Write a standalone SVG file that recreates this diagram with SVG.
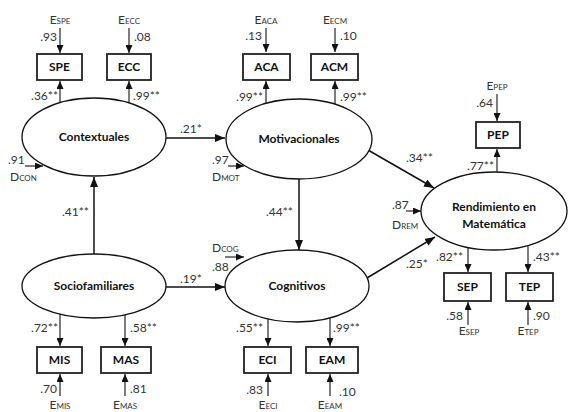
<svg xmlns="http://www.w3.org/2000/svg" width="572" height="412" viewBox="0 0 572 412">
<style>
.bg{fill:#fff}
.lat{fill:#fff;stroke:#111;stroke-width:1.3}
.box{fill:#fff;stroke:#222;stroke-width:1.8}
.ln{stroke:#111;stroke-width:1.5;fill:none}
.lnt{stroke:#111;stroke-width:1.1;fill:none}
.lb{font-family:Lato,"Liberation Sans",sans-serif;font-weight:bold;font-size:12px;fill:#111;text-anchor:middle}
.num{font-family:Lato,"Liberation Sans",sans-serif;font-size:12px;fill:#333}
.sub{font-size:8px}
.mid{text-anchor:middle}
.end{text-anchor:end}
</style>
<defs>
<marker id="ah" viewBox="0 0 10 8" refX="10" refY="4" markerWidth="10" markerHeight="8" markerUnits="userSpaceOnUse" orient="auto"><path d="M0,0L10,4L0,8z" fill="#111"/></marker>
<marker id="as" viewBox="0 0 8 7" refX="8" refY="3.5" markerWidth="8" markerHeight="7" markerUnits="userSpaceOnUse" orient="auto"><path d="M0,0L8,3.5L0,7z" fill="#111"/></marker>
</defs>
<rect class="bg" width="572" height="412"/>

<g id="connectors">
<!-- structural paths -->
<line class="ln" x1="166" y1="138" x2="225" y2="138" marker-end="url(#ah)"/>
<line class="ln" x1="166" y1="287" x2="225" y2="287" marker-end="url(#ah)"/>
<line class="ln" x1="94" y1="254" x2="94" y2="177" marker-end="url(#ah)"/>
<line class="ln" x1="299" y1="179" x2="299" y2="250" marker-end="url(#ah)"/>
<line class="ln" x1="368" y1="150" x2="434" y2="188" marker-end="url(#ah)"/>
<line class="ln" x1="367" y1="278" x2="435" y2="237" marker-end="url(#ah)"/>
<!-- loadings -->
<line class="lnt" x1="60" y1="103" x2="60" y2="81" marker-end="url(#as)"/>
<line class="lnt" x1="129" y1="103" x2="129" y2="81" marker-end="url(#as)"/>
<line class="lnt" x1="266" y1="103" x2="266" y2="81" marker-end="url(#as)"/>
<line class="lnt" x1="335" y1="104" x2="335" y2="81" marker-end="url(#as)"/>
<line class="lnt" x1="497" y1="172" x2="497" y2="149" marker-end="url(#as)"/>
<line class="lnt" x1="60" y1="314" x2="60" y2="346" marker-end="url(#as)"/>
<line class="lnt" x1="125" y1="315" x2="125" y2="346" marker-end="url(#as)"/>
<line class="lnt" x1="268" y1="319" x2="268" y2="346" marker-end="url(#as)"/>
<line class="lnt" x1="330" y1="318" x2="330" y2="346" marker-end="url(#as)"/>
<line class="lnt" x1="468" y1="247" x2="468" y2="272" marker-end="url(#as)"/>
<line class="lnt" x1="528" y1="246" x2="528" y2="272" marker-end="url(#as)"/>
<!-- errors -->
<line class="lnt" x1="60" y1="28" x2="60" y2="53" marker-end="url(#as)"/>
<line class="lnt" x1="129" y1="28" x2="129" y2="53" marker-end="url(#as)"/>
<line class="lnt" x1="266" y1="28" x2="266" y2="52" marker-end="url(#as)"/>
<line class="lnt" x1="335" y1="28" x2="335" y2="52" marker-end="url(#as)"/>
<line class="lnt" x1="497" y1="94" x2="497" y2="121" marker-end="url(#as)"/>
<line class="lnt" x1="60" y1="396" x2="60" y2="374" marker-end="url(#as)"/>
<line class="lnt" x1="125" y1="396" x2="125" y2="374" marker-end="url(#as)"/>
<line class="lnt" x1="268" y1="396" x2="268" y2="374" marker-end="url(#as)"/>
<line class="lnt" x1="330" y1="396" x2="330" y2="374" marker-end="url(#as)"/>
<line class="lnt" x1="468" y1="325" x2="468" y2="302" marker-end="url(#as)"/>
<line class="lnt" x1="528" y1="325" x2="528" y2="302" marker-end="url(#as)"/>
<!-- disturbances -->
<line class="lnt" x1="25" y1="166" x2="43" y2="166" marker-end="url(#as)"/>
<line class="lnt" x1="228" y1="166" x2="244" y2="166" marker-end="url(#as)"/>
<line class="lnt" x1="225" y1="257" x2="244" y2="257" marker-end="url(#as)"/>
<line class="lnt" x1="406" y1="211" x2="421" y2="211" marker-end="url(#as)"/>
<!-- path labels -->
<text class="num" x="180" y="133">.21*</text>
<text class="num" x="180" y="283">.19*</text>
<text class="num" x="62" y="216">.41**</text>
<text class="num" x="266" y="216">.44**</text>
<text class="num" x="406" y="162">.34**</text>
<text class="num" x="406" y="268">.25*</text>
</g>

<g id="Contextuales">
<ellipse class="lat" cx="94" cy="137" rx="72" ry="39"/>
<text class="lb" x="94" y="141">Contextuales</text>
<text class="num" x="8" y="164">.91</text>
<text class="num" x="10" y="181">D<tspan class="sub">CON</tspan></text>
</g>
<g id="SPE">
<rect class="box" x="37" y="54" width="45" height="26"/>
<text class="lb" x="59.5" y="71">SPE</text>
<text class="num mid" x="60" y="24">E<tspan class="sub">SPE</tspan></text>
<text class="num end" x="57" y="41">.93</text>
<text class="num end" x="58" y="100">.36**</text>
</g>
<g id="ECC">
<rect class="box" x="107" y="54" width="44" height="26"/>
<text class="lb" x="129" y="71">ECC</text>
<text class="num mid" x="129" y="24">E<tspan class="sub">ECC</tspan></text>
<text class="num" x="134" y="41">.08</text>
<text class="num" x="133" y="100">.99**</text>
</g>

<g id="Motivacionales">
<ellipse class="lat" cx="299" cy="139" rx="73" ry="40"/>
<text class="lb" x="299" y="143">Motivacionales</text>
<text class="num" x="212" y="164">.97</text>
<text class="num" x="212" y="181">D<tspan class="sub">MOT</tspan></text>
</g>
<g id="ACA">
<rect class="box" x="243" y="54" width="47" height="26"/>
<text class="lb" x="266.5" y="71">ACA</text>
<text class="num mid" x="266" y="24">E<tspan class="sub">ACA</tspan></text>
<text class="num end" x="262" y="40">.13</text>
<text class="num end" x="263" y="101">.99**</text>
</g>
<g id="ACM">
<rect class="box" x="311" y="54" width="47" height="26"/>
<text class="lb" x="334.5" y="71">ACM</text>
<text class="num mid" x="335" y="24">E<tspan class="sub">ECM</tspan></text>
<text class="num" x="340" y="40">.10</text>
<text class="num" x="340" y="101">.99**</text>
</g>

<g id="Rendimiento">
<ellipse class="lat" cx="494" cy="211" rx="73" ry="39"/>
<text class="lb" x="494" y="211">Rendimiento en</text>
<text class="lb" x="494" y="228">Matemática</text>
<text class="num" x="392" y="209">.87</text>
<text class="num" x="392" y="229">D<tspan class="sub">REM</tspan></text>
</g>
<g id="PEP">
<rect class="box" x="476" y="122" width="44" height="26"/>
<text class="lb" x="498" y="139">PEP</text>
<text class="num mid" x="497" y="90">E<tspan class="sub">PEP</tspan></text>
<text class="num end" x="493" y="107">.64</text>
<text class="num end" x="494" y="170">.77**</text>
</g>
<g id="SEP">
<rect class="box" x="444" y="273" width="47" height="28"/>
<text class="lb" x="467.5" y="291">SEP</text>
<text class="num end" x="463" y="261">.82**</text>
<text class="num end" x="463" y="320">.58</text>
<text class="num mid" x="469" y="335">E<tspan class="sub">SEP</tspan></text>
</g>
<g id="TEP">
<rect class="box" x="506" y="273" width="47" height="28"/>
<text class="lb" x="529.5" y="291">TEP</text>
<text class="num" x="533" y="261">.43**</text>
<text class="num" x="533" y="320">.90</text>
<text class="num mid" x="528" y="335">E<tspan class="sub">TEP</tspan></text>
</g>

<g id="Sociofamiliares">
<ellipse class="lat" cx="94" cy="286" rx="72" ry="32"/>
<text class="lb" x="94" y="290">Sociofamiliares</text>
</g>
<g id="MIS">
<rect class="box" x="37" y="347" width="45" height="26"/>
<text class="lb" x="59.5" y="364">MIS</text>
<text class="num end" x="58" y="332">.72**</text>
<text class="num end" x="57" y="393">.70</text>
<text class="num mid" x="60" y="409">E<tspan class="sub">MIS</tspan></text>
</g>
<g id="MAS">
<rect class="box" x="101" y="347" width="50" height="26"/>
<text class="lb" x="126" y="364">MAS</text>
<text class="num" x="130" y="332">.58**</text>
<text class="num" x="130" y="393">.81</text>
<text class="num mid" x="125" y="409">E<tspan class="sub">MAS</tspan></text>
</g>

<g id="Cognitivos">
<ellipse class="lat" cx="297" cy="286" rx="72" ry="36"/>
<text class="lb" x="297" y="290">Cognitivos</text>
<text class="num" x="212" y="252">D<tspan class="sub">COG</tspan></text>
<text class="num" x="212" y="271">.88</text>
</g>
<g id="ECI">
<rect class="box" x="244" y="347" width="47" height="26"/>
<text class="lb" x="267.5" y="364">ECI</text>
<text class="num end" x="263" y="332">.55**</text>
<text class="num end" x="263" y="394">.83</text>
<text class="num mid" x="268" y="409">E<tspan class="sub">ECI</tspan></text>
</g>
<g id="EAM">
<rect class="box" x="306" y="347" width="52" height="26"/>
<text class="lb" x="332" y="364">EAM</text>
<text class="num" x="333" y="332">.99**</text>
<text class="num" x="339" y="396">.10</text>
<text class="num mid" x="330" y="409">E<tspan class="sub">EAM</tspan></text>
</g>
</svg>
